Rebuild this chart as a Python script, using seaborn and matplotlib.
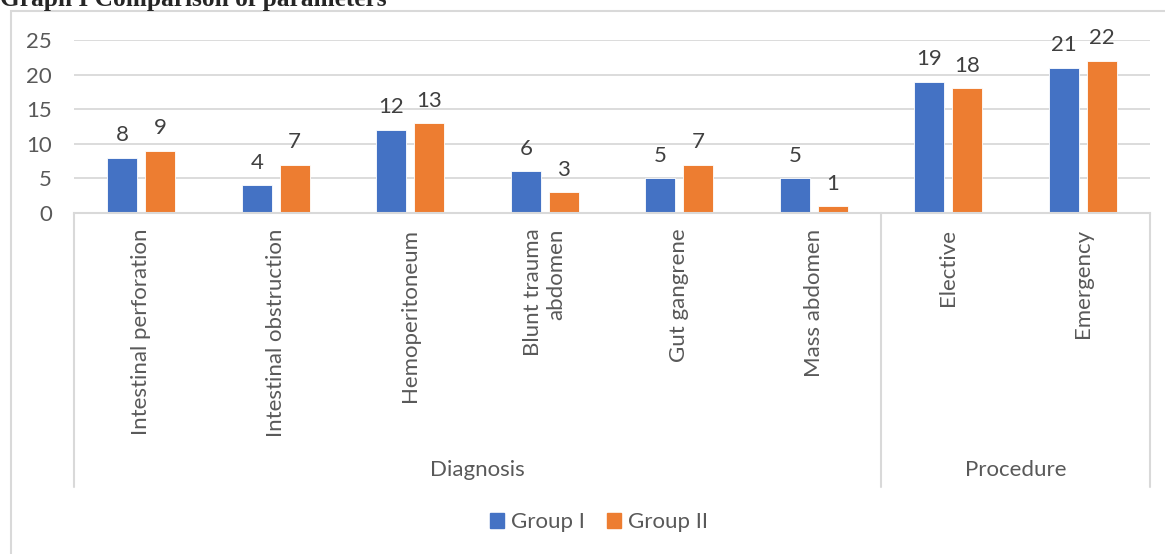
import pandas as pd
import matplotlib.pyplot as plt
import seaborn as sns
from matplotlib.patches import Rectangle
from matplotlib.lines import Line2D

# values
categories = ['Intestinal perforation', 'Intestinal obstruction', 'Hemoperitoneum',
              'Blunt trauma\nabdomen', 'Gut gangrene', 'Mass abdomen', 'Elective', 'Emergency']
group_1 = [8, 4, 12, 6, 5, 5, 19, 21]
group_2 = [9, 7, 13, 3, 7, 1, 18, 22]
sections = ['Diagnosis', 'Procedure']
section_sizes = [6, 2]
y_ticks = [0, 5, 10, 15, 20, 25]

df = pd.DataFrame({
    'Category': categories * 2,
    'Value': group_1 + group_2,
    'Group': ['Group I'] * len(categories) + ['Group II'] * len(categories),
})

sns.set_style('white')
plt.rcParams['font.family'] = ['Lato', 'DejaVu Sans']
text_col = '#595959'
grid_col = '#D9D9D9'
fs = 16

fig = plt.figure(figsize=(11.65, 5.54), dpi=100)
ax = fig.add_axes([74 / 1165, 1 - 213 / 554, 1076 / 1165, 173 / 554])

sns.barplot(data=df, x='Category', y='Value', hue='Group', order=categories,
            palette=['#4472C4', '#ED7D31'], saturation=1, width=0.565, gap=0.21,
            edgecolor='white', linewidth=0.6, ax=ax, legend=False)

for cont in ax.containers:
    ax.bar_label(cont, padding=9, color='#404040', fontsize=fs)

ax.set_ylim(0, 25)
ax.set_xlim(-0.5, len(categories) - 0.5)
ax.set_yticks(y_ticks)
ax.tick_params(axis='y', length=0, pad=16, labelsize=fs, labelcolor=text_col)
ax.tick_params(axis='x', length=0)
ax.set_xticks([])
ax.set_xlabel('')
ax.set_ylabel('')
ax.grid(axis='y', color=grid_col, linewidth=1.3)
ax.set_axisbelow(True)
for s in ['top', 'right', 'left']:
    ax.spines[s].set_visible(False)
ax.spines['bottom'].set_color(grid_col)
ax.spines['bottom'].set_linewidth(1.5)

# category labels, rotated, hanging below the axis
trans = ax.get_xaxis_transform()
for i, cat in enumerate(categories):
    ax.text(i, -0.09, cat, transform=trans, rotation=90, ha='center', va='top',
            multialignment='right', fontsize=fs, color=text_col)

# section labels and separator lines
start = 0
bounds = [-0.5]
for name, n in zip(sections, section_sizes):
    ax.text(start + (n - 1) / 2, -1.486, name, transform=trans, ha='center', va='center',
            fontsize=fs, color=text_col)
    start += n
    bounds.append(start - 0.5)
for b in bounds:
    ax.add_line(Line2D([b, b], [0, -1.584], transform=trans, color=grid_col,
                       linewidth=1.5, clip_on=False))

# legend
handles = [Rectangle((0, 0), 1, 1, color='#4472C4'), Rectangle((0, 0), 1, 1, color='#ED7D31')]
fig.legend(handles, ['Group I', 'Group II'], loc='center', bbox_to_anchor=(599 / 1165, 1 - 522 / 554),
           ncol=2, frameon=False, handlelength=0.65, handleheight=0.65, handletextpad=0.3,
           columnspacing=1.0, labelcolor=text_col, prop={'family': 'Lato', 'size': fs})

# outer chart frame (cropped at right and bottom, like the reference)
fig.patches.append(Rectangle((11 / 1165, -0.2), 1.2, 1.2 - 11 / 554, transform=fig.transFigure,
                             fill=False, edgecolor=grid_col, linewidth=1.5))

fig.text(0, 1 - 6 / 554, 'Graph I Comparison of parameters', ha='left', va='baseline',
         fontsize=18.3, fontweight='bold', family='Liberation Serif')

fig.savefig('out.png', dpi=100)
